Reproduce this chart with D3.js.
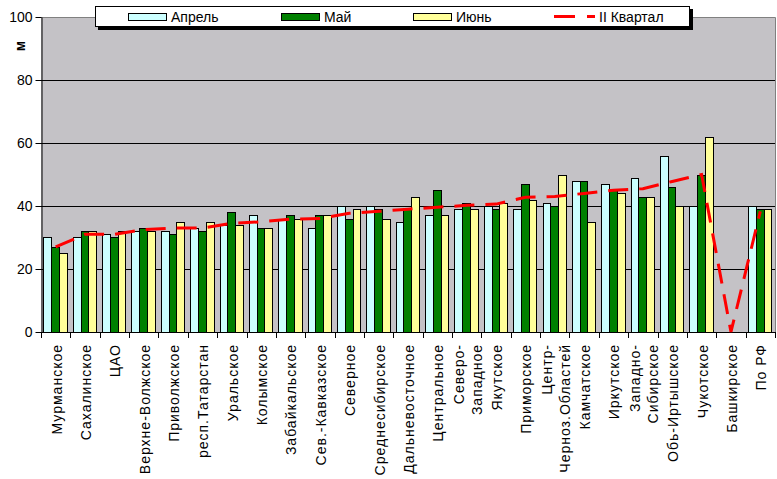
<!DOCTYPE html>
<html><head><meta charset="utf-8">
<script src="https://cdn.jsdelivr.net/npm/d3@7"></script>
<style>
html,body{margin:0;padding:0;background:#fff;}
svg{display:block;font-family:"Liberation Sans",Arial,sans-serif;}
</style></head>
<body>
<svg id="chart" width="777" height="479"></svg>
<script>
const categories = ["Мурманское","Сахалинское","ЦАО","Верхне-Волжское","Приволжское","респ.Татарстан","Уральское","Колымское","Забайкальское","Сев.-Кавказское","Северное","Среднесибирское","Дальневосточное","Центральное","Северо-\nЗападное","Якутское","Приморское","Центр-\nЧерноз.Областей","Камчатское","Иркутское","Западно-\nСибирское","Обь-Иртышское","Чукотское","Башкирское","По РФ"];
const seriesNames = ["Апрель","Май","Июнь"];
const april = [30,30,31,32,32,33,34,37,36,33,40,40,35,37,39,40,39,41,48,47,49,56,40,null,40];
const may   = [27,32,30,33,31,32,38,33,37,37,36,39,39,45,41,39,47,40,48,45,43,46,50,null,39];
const june  = [25,32,32,32,35,35,34,33,36,37,39,36,43,37,39,41,42,50,35,44,43,40,62,null,39];
const quarter = [27,31,31,32.5,33,33,34.5,35,35.8,36,37.7,38.3,39,39.6,40.2,40.6,42.8,43,44,45,45.5,47.8,50,0,38.3];
const lineName = "II Квартал";
const yTicks = [0,20,40,60,80,100];
const yLabel = "м";

const colors = {"Апрель":"#ccffff","Май":"#008000","Июнь":"#ffff99"};
const seriesData = {"Апрель":april,"Май":may,"Июнь":june};

const svg = d3.select("#chart");
const L=41,R=775,T=17,B=332;
const x = d3.scaleBand().domain(categories).range([L,R]).padding(0);
const x1 = d3.scaleBand().domain(seriesNames).range([2.4, 25.7]).padding(0);
const y = d3.scaleLinear().domain([0,100]).range([B,T]);

// plot background
svg.append("rect").attr("x",L).attr("y",T).attr("width",R-L).attr("height",B-T).attr("fill","#c4c2c6");
// border top/right
svg.append("path").attr("d",`M${L},${T+0.5}H${R+0.5}V${B}`).attr("fill","none").attr("stroke","#808080").attr("stroke-width",1);
// gridlines
svg.append("g").selectAll("line").data(yTicks.filter(t=>t>0&&t<100)).join("line")
  .attr("x1",L).attr("x2",R).attr("y1",d=>Math.round(y(d))+0.5).attr("y2",d=>Math.round(y(d))+0.5)
  .attr("stroke","#000").attr("stroke-width",1);

// bars
const rows = categories.map((c,i)=>({c, vals: seriesNames.map(s=>({s, v: seriesData[s][i]}))}));
const g = svg.append("g");
rows.forEach(r=>{
  r.vals.forEach(d=>{
    if(d.v==null) return;
    const bx = Math.round(x(r.c)+x1(d.s))+0.5;
    const bw = Math.round(x(r.c)+x1(d.s)+x1.bandwidth()) - Math.round(x(r.c)+x1(d.s));
    g.append("rect").attr("x",bx).attr("y",Math.round(y(d.v))+0.5)
      .attr("width",bw).attr("height",Math.round(y(0))-Math.round(y(d.v)))
      .attr("fill",colors[d.s]).attr("stroke","#000").attr("stroke-width",1);
  });
});

// y axis
const yAxis = svg.append("g").attr("transform",`translate(${L+0.5},0)`)
  .call(d3.axisLeft(y).tickValues(yTicks).tickSize(6).tickPadding(3).tickSizeOuter(0));
yAxis.select(".domain").attr("stroke","#000");
yAxis.selectAll(".tick line").attr("stroke","#000");
yAxis.selectAll("text").attr("font-size",14).attr("fill","#000").attr("font-family","Liberation Sans, Arial, sans-serif");

// x axis line and ticks at band boundaries
svg.append("line").attr("x1",L).attr("x2",R+1).attr("y1",B+0.5).attr("y2",B+0.5).attr("stroke","#000");
const bounds = categories.map(c=>x(c)).concat([x(categories[categories.length-1])+x.bandwidth()]);
svg.append("g").selectAll("line").data(bounds).join("line")
  .attr("x1",d=>Math.round(d)+0.5).attr("x2",d=>Math.round(d)+0.5)
  .attr("y1",B).attr("y2",B+6).attr("stroke","#000");

// x labels
const lab = svg.append("g");
categories.forEach(c=>{
  const lines = c.split("\n");
  const cx = x(c)+x.bandwidth()/2;
  lines.forEach((t,k)=>{
    const off = (k-(lines.length-1)/2)*18;
    lab.append("text").attr("transform",`translate(${cx+off+1},344) rotate(-90)`)
      .attr("text-anchor","end").attr("dy","0.35em").attr("font-size",14)
      .attr("letter-spacing","1px").attr("fill","#000").text(t);
  });
});

// quarter line
const lineGen = d3.line().x((d,i)=>x(categories[i])+x.bandwidth()/2).y(d=>y(d));
svg.append("path").datum(quarter).attr("d",lineGen).attr("fill","none")
  .attr("stroke","#ff0000").attr("stroke-width",3).attr("stroke-dasharray","20,11");

// y label
svg.append("text").attr("transform","translate(20,46) rotate(-90)").attr("text-anchor","middle")
  .attr("dy","0.35em").attr("font-size",14).attr("font-weight","bold").text(yLabel);

// legend
const lg = svg.append("g");
lg.append("rect").attr("x",98).attr("y",9).attr("width",595).attr("height",21).attr("fill","#000");
lg.append("rect").attr("x",95.5).attr("y",6.5).attr("width",594).attr("height",20).attr("fill","#fff").attr("stroke","#000");
const legItems = [{n:"Апрель",x:128},{n:"Май",x:281},{n:"Июнь",x:413}];
legItems.forEach(d=>{
  lg.append("rect").attr("x",d.x+0.5).attr("y",13.5).attr("width",38).attr("height",7)
    .attr("fill",colors[d.n]).attr("stroke","#000");
  lg.append("text").attr("x",d.x+43).attr("y",22).attr("font-size",14).attr("fill","#000").text(d.n);
});
lg.append("line").attr("x1",554).attr("x2",595).attr("y1",16.5).attr("y2",16.5)
  .attr("stroke","#ff0000").attr("stroke-width",3).attr("stroke-dasharray","21,12");
lg.append("text").attr("x",599).attr("y",22).attr("font-size",14).attr("fill","#000").text(lineName);
</script>
</body></html>
